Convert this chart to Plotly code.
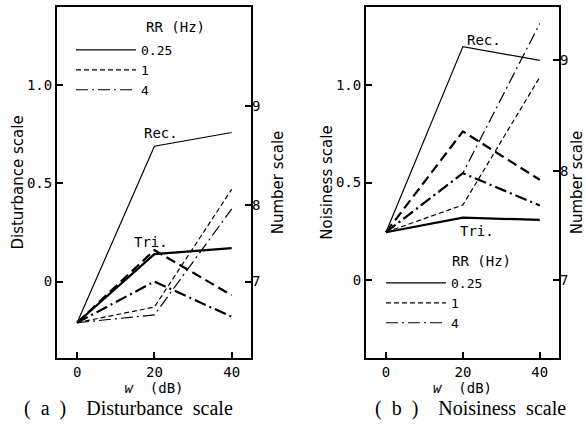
import plotly.graph_objects as go

# ---------------- data ----------------
w_db = [0, 20, 40]
rr_labels = ["0.25", "1", "4"]

# (a) Disturbance scale
a_rec_025 = [-0.21, 0.69, 0.76]
a_rec_1 = [-0.21, -0.13, 0.47]
a_rec_4 = [-0.21, -0.17, 0.37]
a_tri_025 = [-0.21, 0.14, 0.17]
a_tri_1 = [-0.21, 0.16, -0.07]
a_tri_4 = [-0.21, 0.0, -0.18]

# (b) Noisiness scale
b_rec_025 = [0.245, 1.197, 1.126]
b_rec_1 = [0.245, 0.385, 1.04]
b_rec_4 = [0.245, 0.548, 1.315]
b_tri_025 = [0.245, 0.32, 0.308]
b_tri_1 = [0.245, 0.762, 0.514]
b_tri_4 = [0.245, 0.548, 0.382]

# tick labels
x_ticks = [0, 20, 40]
scale_ticks = [0, 0.5, 1.0]
scale_tick_text = ["0", "0.5", "1.0"]
number_tick_text = ["7", "8", "9"]
a_number_ticks = [0.0, 0.389, 0.893]   # number-scale ticks in disturbance units
b_number_ticks = [0.0, 0.561, 1.13]    # number-scale ticks in noisiness units

# ---------------- styles ----------------
MONO = "DejaVu Sans Mono"
SANS = "DejaVu Sans"
SERIF = "Liberation Serif"
dash_styles = {"0.25": "solid", "1": "5px,3px", "4": "12px,4px,2px,4px"}
thick_dash = {"0.25": "solid", "1": "10px,5px", "4": "12px,4px,2px,4px"}

fig = go.Figure()

def add_panel(xa, ya, rec, tri, legend):
    for lab, ys in zip(rr_labels, rec):
        fig.add_trace(go.Scatter(
            x=w_db, y=ys, mode="lines", xaxis=xa, yaxis=ya,
            line=dict(color="black", width=1.2, dash=dash_styles[lab]),
            name=lab, legend=legend, showlegend=True))
    for lab, ys in zip(rr_labels, tri):
        fig.add_trace(go.Scatter(
            x=w_db, y=ys, mode="lines", xaxis=xa, yaxis=ya,
            line=dict(color="black", width=2.2, dash=thick_dash[lab]),
            name=lab, showlegend=False))

add_panel("x", "y", [a_rec_025, a_rec_1, a_rec_4], [a_tri_025, a_tri_1, a_tri_4], "legend")
add_panel("x2", "y2", [b_rec_025, b_rec_1, b_rec_4], [b_tri_025, b_tri_1, b_tri_4], "legend2")

ydom = [1 - 358 / 430, 1 - 7 / 430]
xdom_a = [57 / 586, 251 / 586]
xdom_b = [366 / 586, 559 / 586]

tickfont = dict(family=MONO, size=14, color="black")
titlefont = dict(family=SANS, size=15, color="black")

def xaxis_cfg(dom, anchor):
    return dict(domain=dom, range=[-5.2, 45], anchor=anchor, showline=True, mirror=True,
                linewidth=2, linecolor="black", ticks="inside", ticklen=6, tickwidth=1.5,
                tickcolor="black", tickvals=x_ticks, tickfont=tickfont, showgrid=False,
                zeroline=False, automargin=False,
                title=dict(text="<i>w</i>  (dB)", font=dict(family=MONO, size=14, color="black"),
                           standoff=0))

def yaxis_cfg(rng, anchor, title):
    return dict(domain=ydom, range=rng, anchor=anchor, showline=True, mirror=True,
                linewidth=2, linecolor="black", ticks="inside", ticklen=6, tickwidth=1.5,
                tickcolor="black", tickvals=scale_ticks, ticktext=scale_tick_text,
                tickfont=tickfont, showgrid=False, zeroline=False, automargin=False,
                title=dict(text=title, font=titlefont, standoff=0))

def num_cfg(rng, anchor, over, vals):
    return dict(range=rng, anchor=anchor, overlaying=over, side="right", showline=False,
                ticks="inside", ticklen=6, tickwidth=1.5, tickcolor="black",
                tickvals=vals, ticktext=number_tick_text, tickfont=tickfont,
                showgrid=False, zeroline=False, automargin=False,
                title=dict(text="Number scale", font=titlefont, standoff=13))

# invisible traces to activate the number-scale axes
fig.add_trace(go.Scatter(x=[None], y=[None], xaxis="x", yaxis="y3", showlegend=False))
fig.add_trace(go.Scatter(x=[None], y=[None], xaxis="x2", yaxis="y4", showlegend=False))

a_rng = [-0.39, 1.40]
b_rng = [-0.40, 1.40]

legfont = dict(family=MONO, size=13, color="black")
fig.update_layout(
    width=586, height=430,
    margin=dict(l=0, r=0, t=0, b=0, autoexpand=False),
    paper_bgcolor="white", plot_bgcolor="white",
    xaxis=xaxis_cfg(xdom_a, "y"),
    yaxis=yaxis_cfg(a_rng, "x", "Disturbance scale"),
    yaxis3=num_cfg(a_rng, "x", "y", a_number_ticks),
    xaxis2=xaxis_cfg(xdom_b, "y2"),
    yaxis2=yaxis_cfg(b_rng, "x2", "Noisiness scale"),
    yaxis4=num_cfg(b_rng, "x2", "y2", b_number_ticks),
    legend=dict(x=71 / 586, y=1 - 35 / 430, xanchor="left", yanchor="top",
                bgcolor="rgba(0,0,0,0)", font=legfont, itemwidth=60, tracegroupgap=0),
    legend2=dict(x=381 / 586, y=1 - 268 / 430, xanchor="left", yanchor="top",
                 bgcolor="rgba(0,0,0,0)", font=legfont, itemwidth=60, tracegroupgap=0),
    showlegend=True,
)

ann_font = dict(family=MONO, size=14, color="black")
fig.add_annotation(text="RR (Hz)", x=175 / 586, y=1 - 27 / 430, xref="paper", yref="paper",
                   xanchor="center", yanchor="middle", showarrow=False, font=ann_font)
fig.add_annotation(text="RR (Hz)", x=481 / 586, y=1 - 261 / 430, xref="paper", yref="paper",
                   xanchor="center", yanchor="middle", showarrow=False, font=ann_font)
fig.add_annotation(text="Rec.", x=21.8, y=0.76, xref="x", yref="y", showarrow=False, font=ann_font)
fig.add_annotation(text="Tri.", x=19, y=0.2, xref="x", yref="y", showarrow=False, font=ann_font)
fig.add_annotation(text="Rec.", x=25.4, y=1.23, xref="x2", yref="y2", showarrow=False, font=ann_font)
fig.add_annotation(text="Tri.", x=23.6, y=0.25, xref="x2", yref="y2", showarrow=False, font=ann_font)

sub_font = dict(family=SERIF, size=20, color="black")
fig.add_annotation(text="(  a  )    Disturbance  scale", x=128 / 586, y=1 - 408 / 430,
                   xref="paper", yref="paper", xanchor="center", yanchor="middle",
                   showarrow=False, font=sub_font)
fig.add_annotation(text="(  b  )    Noisiness  scale", x=470 / 586, y=1 - 408 / 430,
                   xref="paper", yref="paper", xanchor="center", yanchor="middle",
                   showarrow=False, font=sub_font)

fig.write_html("out.html", config={"displayModeBar": False},
               post_script="document.body.style.margin='0';")
